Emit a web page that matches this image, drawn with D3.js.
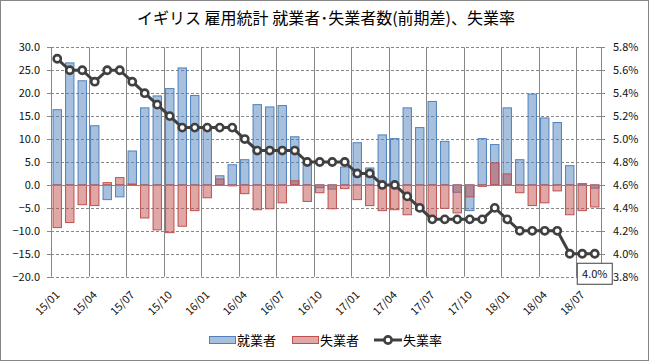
<!DOCTYPE html>
<html>
<head>
<meta charset="utf-8">
<script src="https://cdn.jsdelivr.net/npm/d3@7"></script>
<style>
  body { margin: 0; background: #fff; }
  text { font-family: "Noto Sans CJK JP", "Noto Sans", sans-serif; }
</style>
</head>
<body>
<svg id="chart" width="649" height="361"></svg>
<script>
// UK employment stats – employed / unemployed (change vs prior period), unemployment rate

const months = [
  "15/01","15/02","15/03","15/04","15/05","15/06","15/07","15/08","15/09","15/10","15/11","15/12",
  "16/01","16/02","16/03","16/04","16/05","16/06","16/07","16/08","16/09","16/10","16/11","16/12",
  "17/01","17/02","17/03","17/04","17/05","17/06","17/07","17/08","17/09","17/10","17/11","17/12",
  "18/01","18/02","18/03","18/04","18/05","18/06","18/07","18/08"
];

// 就業者 (change, 10k persons)
const employed = [
  16.4, 26.6, 22.7, 12.9, -3.2, -2.6, 7.4, 16.8, 19.4, 21.0, 25.5, 19.5,
  12.3, 2.0, 4.4, 5.5, 17.5, 17.0, 17.3, 10.5, 5.0, -0.6, -0.9, 3.9,
  9.2, 3.7, 10.9, 10.1, 16.8, 12.5, 18.2, 9.5, -1.6, -5.6, 10.1, 8.8,
  16.8, 5.5, 19.8, 14.6, 13.6, 4.2, 0.3, -0.7
];

// 失業者 (change, 10k persons)
const unemployed = [
  -9.3, -8.2, -4.3, -4.5, 0.5, 1.6, 0.2, -7.2, -9.8, -10.4, -9.0, -5.6,
  -2.8, 1.3, -0.2, -1.9, -5.4, -5.2, -3.9, 0.9, -3.6, -1.7, -5.2, -0.8,
  -3.2, -4.5, -5.6, -5.4, -6.5, -5.4, -7.2, -5.1, -6.1, -2.6, -0.3, 4.8,
  2.4, -1.7, -4.5, -3.9, -1.3, -6.5, -5.6, -4.8
];

// 失業率 (%)
const unempRate = [
  5.7, 5.6, 5.6, 5.5, 5.6, 5.6, 5.5, 5.4, 5.3, 5.2, 5.1, 5.1,
  5.1, 5.1, 5.1, 5.0, 4.9, 4.9, 4.9, 4.9, 4.8, 4.8, 4.8, 4.8,
  4.7, 4.7, 4.6, 4.6, 4.5, 4.4, 4.3, 4.3, 4.3, 4.3, 4.3, 4.4,
  4.3, 4.2, 4.2, 4.2, 4.2, 4.0, 4.0, 4.0
];

const leftTicks = [30, 25, 20, 15, 10, 5, 0, -5, -10, -15, -20];
const rightTicks = [5.8, 5.6, 5.4, 5.2, 5.0, 4.8, 4.6, 4.4, 4.2, 4.0, 3.8];
const labelEvery = 3;

const title = "イギリス 雇用統計 就業者･失業者数(前期差)、失業率";
const seriesNames = ["就業者", "失業者", "失業率"];

const BLUE = "#4F81BD", RED = "#C0504D", LINE = "#404040", GRID = "#878787";

const W = 649, H = 361;
const plot = { left: 51, right: 601, top: 47.3, bottom: 276.7 };

const svg = d3.select("#chart");

// outer frame
svg.append("rect")
  .attr("x", 0.5).attr("y", 0.5)
  .attr("width", W - 1).attr("height", H - 1)
  .attr("fill", "#fff").attr("stroke", "#868686");

// title
svg.append("text")
  .attr("x", 326).attr("y", 24)
  .attr("text-anchor", "middle")
  .attr("font-size", 16)
  .attr("fill", "#000")
  .text(title);

// scales
const xCat = d3.scaleBand().domain(months).range([plot.left, plot.right]);
const xBar = d3.scaleBand().domain(months).range([plot.left, plot.right])
  .paddingInner(0.25).paddingOuter(0.125);
const yL = d3.scaleLinear().domain([-20, 30]).range([plot.bottom, plot.top]);
const yR = d3.scaleLinear().domain([3.8, 5.8]).range([plot.bottom, plot.top]);

const g = svg.append("g");

// horizontal gridlines (dashed)
g.append("g")
  .selectAll("line")
  .data(leftTicks.filter(d => d !== 0))
  .join("line")
  .attr("x1", plot.left).attr("x2", plot.right)
  .attr("y1", d => Math.round(yL(d)) + 0.5)
  .attr("y2", d => Math.round(yL(d)) + 0.5)
  .attr("stroke", GRID)
  .attr("stroke-dasharray", "3,2");

// vertical gridlines every 3 months
const vlines = months.filter((m, i) => i % labelEvery === 0).map(m => xCat(m)).concat([plot.right]);
g.append("g")
  .selectAll("line")
  .data(vlines)
  .join("line")
  .attr("x1", d => Math.round(d) + 0.5).attr("x2", d => Math.round(d) + 0.5)
  .attr("y1", plot.top).attr("y2", plot.bottom)
  .attr("stroke", GRID);

// axis ticks (left & right)
g.append("g")
  .selectAll("line")
  .data(leftTicks)
  .join("line")
  .attr("x1", plot.left - 4).attr("x2", plot.left + 3)
  .attr("y1", d => Math.round(yL(d)) + 0.5)
  .attr("y2", d => Math.round(yL(d)) + 0.5)
  .attr("stroke", GRID);
g.append("g")
  .selectAll("line")
  .data(rightTicks)
  .join("line")
  .attr("x1", plot.right - 3).attr("x2", plot.right + 4)
  .attr("y1", d => Math.round(yR(d)) + 0.5)
  .attr("y2", d => Math.round(yR(d)) + 0.5)
  .attr("stroke", GRID);

// tick labels
g.append("g")
  .selectAll("text")
  .data(leftTicks)
  .join("text")
  .attr("x", 40).attr("y", d => yL(d) + 4)
  .attr("text-anchor", "end")
  .attr("font-size", 11)
  .attr("fill", "#111")
  .text(d3.format(".1f"));

g.append("g")
  .selectAll("text")
  .data(rightTicks)
  .join("text")
  .attr("x", 613).attr("y", d => yR(d) + 4)
  .attr("font-size", 11)
  .attr("fill", "#111")
  .text(d => d.toFixed(1) + "%");

// x labels
g.append("g")
  .selectAll("text")
  .data(months.filter((m, i) => i % labelEvery === 0))
  .join("text")
  .attr("transform", d => `translate(${xCat(d) + xCat.bandwidth() / 2 + 3},${plot.bottom + 19}) rotate(-45)`)
  .attr("text-anchor", "end")
  .attr("font-size", 11)
  .attr("fill", "#111")
  .text(d => d);

// bars: employed first, unemployed overlaid (100% overlap, semi-transparent)
const barData = months.map((m, i) => ({ m, emp: employed[i], u: unemployed[i], rate: unempRate[i] }));

g.append("g")
  .selectAll("rect")
  .data(barData)
  .join("rect")
  .attr("x", d => xBar(d.m) + 0.5)
  .attr("width", xBar.bandwidth() - 1)
  .attr("y", d => yL(Math.max(0, d.emp)))
  .attr("height", d => Math.abs(yL(d.emp) - yL(0)))
  .attr("fill", BLUE).attr("fill-opacity", 0.5)
  .attr("stroke", BLUE).attr("stroke-width", 1);

g.append("g")
  .selectAll("rect")
  .data(barData)
  .join("rect")
  .attr("x", d => xBar(d.m) + 0.5)
  .attr("width", xBar.bandwidth() - 1)
  .attr("y", d => yL(Math.max(0, d.u)))
  .attr("height", d => Math.abs(yL(d.u) - yL(0)))
  .attr("fill", RED).attr("fill-opacity", 0.5)
  .attr("stroke", RED).attr("stroke-width", 1);

// zero axis line
g.append("line")
  .attr("x1", plot.left).attr("x2", plot.right)
  .attr("y1", Math.round(yL(0)) + 0.5).attr("y2", Math.round(yL(0)) + 0.5)
  .attr("stroke", GRID);

// unemployment rate line
const cx = m => xCat(m) + xCat.bandwidth() / 2;
const line = d3.line().x(d => cx(d.m)).y(d => yR(d.rate));

g.append("path")
  .datum(barData)
  .attr("d", line)
  .attr("fill", "none")
  .attr("stroke", LINE)
  .attr("stroke-width", 3)
  .attr("stroke-linejoin", "round");

g.append("g")
  .selectAll("circle")
  .data(barData)
  .join("circle")
  .attr("cx", d => cx(d.m))
  .attr("cy", d => yR(d.rate))
  .attr("r", 3.6)
  .attr("fill", "#fff")
  .attr("stroke", LINE)
  .attr("stroke-width", 2.6);

// data label for last point
const last = barData[barData.length - 1];
const lx = cx(last.m), ly = yR(last.rate);
g.append("rect")
  .attr("x", lx - 17.5).attr("y", ly + 9.5)
  .attr("width", 35).attr("height", 21)
  .attr("fill", "#fff").attr("stroke", LINE);
g.append("text")
  .attr("x", lx).attr("y", ly + 24)
  .attr("text-anchor", "middle")
  .attr("font-size", 11)
  .attr("fill", "#111")
  .text(last.rate.toFixed(1) + "%");

// legend
const lg = svg.append("g").attr("font-size", 13);
const ly0 = 340;
[[BLUE, 209], [RED, 292]].forEach(([c, x0], i) => {
  lg.append("rect")
    .attr("x", x0 + 0.5).attr("y", ly0 - 3.5)
    .attr("width", 26).attr("height", 7)
    .attr("fill", c).attr("fill-opacity", 0.5)
    .attr("stroke", c);
  lg.append("text")
    .attr("x", x0 + 28).attr("y", ly0 + 5)
    .attr("fill", "#000")
    .text(seriesNames[i]);
});
lg.append("line")
  .attr("x1", 374).attr("x2", 402)
  .attr("y1", ly0).attr("y2", ly0)
  .attr("stroke", LINE).attr("stroke-width", 3);
lg.append("circle")
  .attr("cx", 388).attr("cy", ly0).attr("r", 3.6)
  .attr("fill", "#fff").attr("stroke", LINE).attr("stroke-width", 2.6);
lg.append("text")
  .attr("x", 403).attr("y", ly0 + 5)
  .attr("fill", "#000")
  .text(seriesNames[2]);
</script>
</body>
</html>
